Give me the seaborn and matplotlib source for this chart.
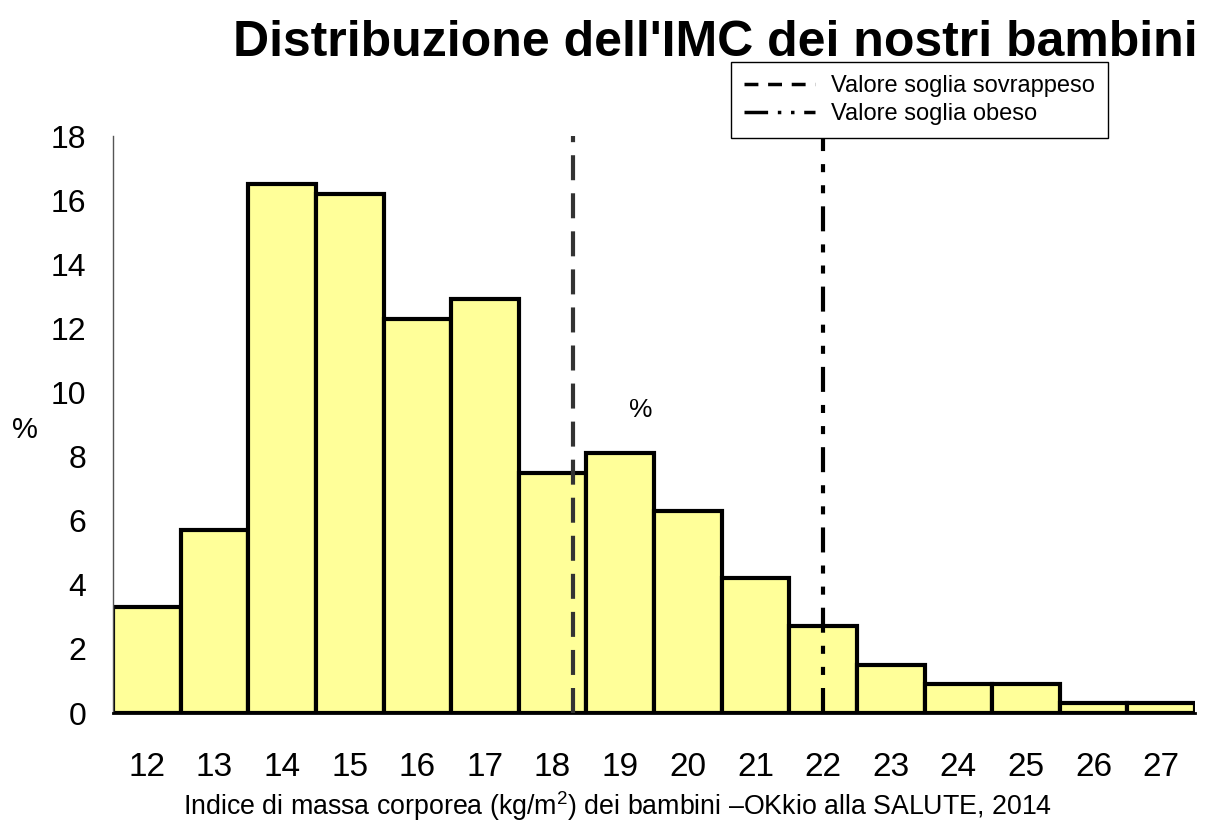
import matplotlib
matplotlib.use("Agg")
import matplotlib.pyplot as plt
import seaborn as sns
import pandas as pd
from matplotlib.lines import Line2D
from matplotlib.ticker import FixedLocator

# ---- data ----
bmi_classes = [12, 13, 14, 15, 16, 17, 18, 19, 20, 21, 22, 23, 24, 25, 26, 27]
percentages = [3.3, 5.7, 16.5, 16.2, 12.3, 12.9, 7.5, 8.1, 6.3, 4.2, 2.7, 1.5, 0.9, 0.9, 0.3, 0.3]
soglia_sovrappeso = 18.3
soglia_obeso = 22.0
y_ticks = [0, 2, 4, 6, 8, 10, 12, 14, 16, 18]

title = "Distribuzione dell'IMC dei nostri bambini"
xlabel = "Indice di massa corporea (kg/m$^{2}$) dei bambini \u2013OKkio alla SALUTE, 2014"
legend_labels = ["Valore soglia sovrappeso", "Valore soglia obeso"]

sns.set_style("white")
plt.rcParams["font.family"] = ["Liberation Sans", "DejaVu Sans"]
plt.rcParams["mathtext.fontset"] = "custom"
plt.rcParams["mathtext.rm"] = "Liberation Sans"
plt.rcParams["mathtext.default"] = "regular"
plt.rcParams["text.color"] = "black"
plt.rcParams["axes.labelcolor"] = "black"
plt.rcParams["xtick.color"] = "black"
plt.rcParams["ytick.color"] = "black"
plt.rcParams["lines.scale_dashes"] = False

df = pd.DataFrame({"imc": [str(c) for c in bmi_classes], "pct": percentages})

fig = plt.figure(figsize=(12.08, 8.22), dpi=100)
ax = fig.add_axes([113 / 1208, 1 - 713 / 822, (1195 - 113) / 1208, (713 - 136) / 822])

sns.barplot(data=df, x="imc", y="pct", order=df["imc"], color="#FFFF99",
            saturation=1, width=1.0, edgecolor="black", linewidth=3.0, ax=ax,
            zorder=2)

ax.set_xlim(-0.5, len(bmi_classes) - 0.5)
ax.set_ylim(0, 18)
ax.set_yticks(y_ticks)
ax.set_yticklabels([str(t) for t in y_ticks], fontsize=23)

# threshold lines (converted to category positions)
x0 = bmi_classes[0]
ax.axvline(soglia_sovrappeso - x0, color="#333333", lw=3.0, dashes=(18, 9.4), zorder=3)
ax.axvline(soglia_obeso - x0, color="black", lw=3.0,
           dashes=(18, 9.4, 5.8, 9.4, 5.8, 9.4), zorder=3)

# ticks
ax.tick_params(axis="x", which="major", length=0, pad=28, labelsize=24)
ax.xaxis.set_minor_locator(FixedLocator([i - 0.5 for i in range(len(bmi_classes) + 1)]))
ax.tick_params(axis="x", which="minor", length=9, width=1, color="#555555", direction="out")
ax.tick_params(axis="y", which="major", length=9, width=1, color="black", direction="out", pad=10)

for side in ["top", "right"]:
    ax.spines[side].set_visible(False)
ax.spines["left"].set_color("#555555")
ax.spines["left"].set_linewidth(1)
ax.spines["bottom"].set_color("black")
ax.spines["bottom"].set_linewidth(2)

ax.set_xlabel(xlabel, fontsize=19.3)
ax.xaxis.set_label_coords((618 - 113) / 1082, -(806 - 713) / 577)
ax.xaxis.label.set_va("center")
ax.set_ylabel("%", fontsize=21, rotation=0, va="center", ha="center")
ax.yaxis.set_label_coords(-(113 - 25) / 1082, (713 - 430) / 577)

ax.text(soglia_sovrappeso - x0 + 1.0, 9.45, "%", fontsize=19, ha="center", va="center")

fig.text(715 / 1208, 1 - 43 / 822, title, fontsize=36, fontweight="bold", ha="center", va="center")

handles = [Line2D([], [], color="black", lw=2.5, dashes=(10, 7)),
           Line2D([], [], color="black", lw=2.5, dashes=(17, 7, 2.5, 7, 2.5, 7))]
leg = fig.legend(handles, legend_labels, loc="upper left",
                 bbox_to_anchor=(731 / 1208, 1 - 62 / 822), fontsize=17,
                 frameon=True, fancybox=False, edgecolor="black", framealpha=1,
                 handlelength=3.0, borderpad=0.55, labelspacing=0.25, handletextpad=0.7,
                 borderaxespad=0)
leg.get_frame().set_linewidth(1)
leg.set_zorder(5)

fig.savefig("out.png", dpi=100)
